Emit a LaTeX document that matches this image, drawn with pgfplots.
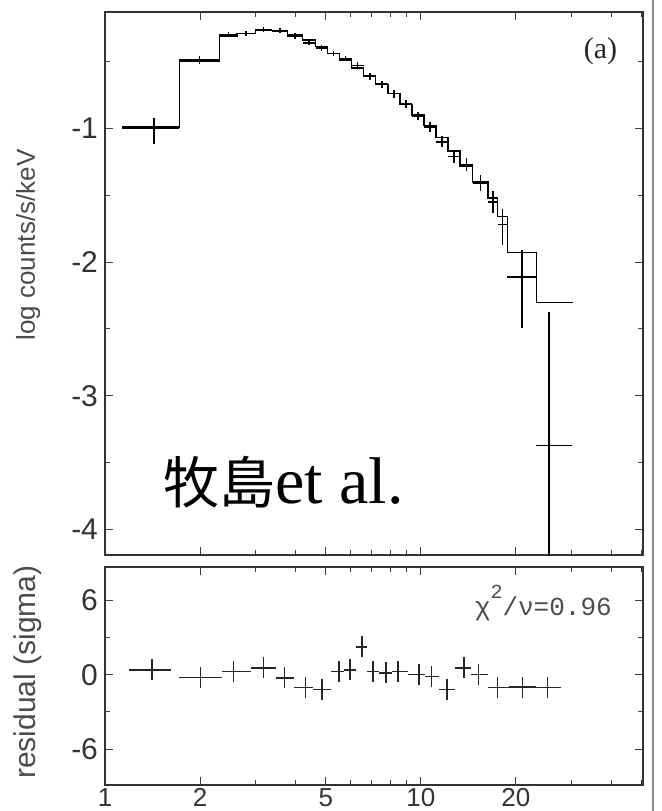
\documentclass[border=0pt]{standalone}
\usepackage{fontspec}
\setmainfont{Liberation Sans}
\newfontfamily\serif{Liberation Serif}
\newfontfamily\cjk{Noto Sans CJK JP}
\newfontfamily\mono{Liberation Mono}
\usepackage{pgfplots}
\usepackage{pgfplotstable}
\pgfplotsset{compat=1.18}

% observed spectrum: centre energy, bin half widths, log counts, errors
\pgfplotstableread{
E xm xp y ym yp
1.43 0.30 0.29 -1.00 0.12 0.08
1.99 0.27 0.31 -0.49 0.03 0.03
2.46 0.16 0.16 -0.30 0.02 0.02
2.80 0.18 0.19 -0.29 0.02 0.02
3.18 0.19 0.21 -0.26 0.02 0.02
3.58 0.19 0.20 -0.27 0.02 0.02
3.99 0.21 0.23 -0.31 0.02 0.02
4.43 0.21 0.21 -0.36 0.02 0.02
4.85 0.21 0.21 -0.40 0.02 0.02
5.29 0.23 0.24 -0.44 0.02 0.02
5.78 0.25 0.26 -0.48 0.02 0.02
6.31 0.27 0.28 -0.53 0.025 0.025
6.89 0.30 0.31 -0.61 0.025 0.025
7.52 0.32 0.34 -0.67 0.025 0.025
8.21 0.35 0.37 -0.74 0.03 0.03
8.97 0.39 0.40 -0.82 0.03 0.03
9.79 0.42 0.44 -0.91 0.03 0.03
10.69 0.46 0.48 -0.99 0.035 0.035
11.67 0.50 0.53 -1.10 0.04 0.04
12.74 0.54 0.56 -1.21 0.05 0.05
13.94 0.64 0.66 -1.27 0.05 0.05
15.43 0.83 0.87 -1.41 0.06 0.06
16.89 0.59 0.61 -1.55 0.08 0.08
18.14 0.64 0.66 -1.72 0.15 0.12
20.9 2.1 2.3 -2.11 0.38 0.20
25.4 2.3 4.8 -3.37 2.00 1.00
}\spec

% model (step histogram): bin lower edge, log counts
\pgfplotstableread{
E m
1.13 -0.99
1.72 -0.50
2.30 -0.31
2.62 -0.29
2.99 -0.27
3.39 -0.27
3.78 -0.30
4.22 -0.34
4.64 -0.39
5.06 -0.44
5.53 -0.49
6.04 -0.55
6.59 -0.61
7.20 -0.67
7.86 -0.74
8.58 -0.82
9.37 -0.90
10.23 -0.98
11.17 -1.07
12.2 -1.17
13.3 -1.28
14.6 -1.40
16.3 -1.52
17.5 -1.66
18.8 -1.93
23.2 -2.30
30.3 -2.30
}\model

% residuals in sigma
\pgfplotstableread{
E xm xp r
1.41 0.22 0.21 0.40
2.01 0.30 0.33 -0.20
2.55 0.21 0.34 0.25
3.17 0.28 0.32 0.55
3.70 0.21 0.27 -0.25
4.31 0.34 0.25 -1.05
4.87 0.31 0.33 -1.20
5.51 0.31 0.20 0.25
5.97 0.26 0.26 0.40
6.51 0.28 0.25 2.25
7.06 0.30 0.31 0.25
7.76 0.39 0.34 0.15
8.46 0.36 0.64 0.25
9.86 0.76 0.44 0.00
10.8 0.50 0.60 -0.15
12.1 0.70 0.70 -1.20
13.7 0.90 0.70 0.55
15.2 0.80 1.10 0.00
17.5 1.20 1.50 -1.05
21.0 2.00 2.10 -1.00
25.2 2.10 2.50 -1.05
}\resid

\begin{document}
\begin{tikzpicture}
\useasboundingbox (0,0) rectangle (331pt,-405.5pt);

% left edge of neighbouring panel (b)
\draw[black!45, line width=0.8pt] (326.5pt,0pt) -- (326.5pt,-405.5pt);

\begin{axis}[
  xmode=log, log basis x=10,
  scale only axis, width=269pt, height=271.5pt,
  at={(52.5pt,-6pt)}, anchor=north west,
  xmin=1, xmax=50.5,
  xtick={1,2,5,10,20},
  minor xtick={3,4,6,7,8,9,30,40,50},
  xticklabels={},
  ymin=-4.19, ymax=-0.13,
  ytick={-4,-3,-2,-1},
  minor ytick={-3.5,-2.5,-1.5,-0.5},
  tick align=inside,
  major tick length=4pt, minor tick length=2.5pt,
  axis line style={black!80, line width=0.9pt},
  tick style={black!75, line width=0.5pt},
  /pgf/number format/assume math mode=true,
  tick label style={font=\fontsize{15}{15}\selectfont, text=black!80},
  ylabel={log counts/s/keV},
  ylabel style={at={(axis description cs:-0.143,0.571)}, anchor=center,
    font=\fontsize{13}{13}\selectfont, text=black!70},
]
\addplot[const plot mark left, black, line width=0.7pt] table[x=E, y=m]{\model};
\addplot[draw=none, mark=none,
  error bars/.cd, x dir=both, x explicit, y dir=both, y explicit,
  error mark=none, error bar style={draw=black, solid, line width=0.8pt}]
  table[x=E, y=y, x error minus=xm, x error plus=xp,
        y error minus=ym, y error plus=yp]{\spec};
\node[anchor=north east, font=\serif\fontsize{15}{15}\selectfont, text=black!85]
  at (axis description cs:0.965,0.965) {(a)};
\node[anchor=base west, inner sep=0pt]
  at (axis description cs:0.108,0.094) {{\cjk\fontsize{28}{28}\selectfont 牧島}{\serif\fontsize{33}{33}\selectfont et al.}};
\end{axis}

\begin{axis}[
  xmode=log, log basis x=10,
  scale only axis, width=269pt, height=109pt,
  at={(52.5pt,-283.5pt)}, anchor=north west,
  xmin=1, xmax=50.5,
  xtick={1,2,5,10,20},
  xticklabels={1,2,5,10,20},
  minor xtick={3,4,6,7,8,9,30,40,50},
  ymin=-8.9, ymax=8.7,
  ytick={-6,0,6},
  minor ytick={-3,3},
  tick align=inside,
  major tick length=4pt, minor tick length=2.5pt,
  axis line style={black!80, line width=0.9pt},
  tick style={black!75, line width=0.5pt},
  /pgf/number format/assume math mode=true,
  tick label style={font=\fontsize{15}{15}\selectfont, text=black!80},
  xticklabel style={font=\fontsize{13}{13}\selectfont, inner sep=0pt, yshift=-1.5pt},
  ylabel={residual (sigma)},
  ylabel style={at={(axis description cs:-0.143,0.518)}, anchor=center,
    font=\fontsize{15}{15}\selectfont, text=black!70},
]
\addplot[draw=none, mark=none,
  error bars/.cd, x dir=both, x explicit, y dir=both, y fixed=0.85,
  error mark=none, error bar style={draw=black!85, solid, line width=0.7pt}]
  table[x=E, y=r, x error minus=xm, x error plus=xp]{\resid};
\node[anchor=east, font=\mono\fontsize{13}{13}\selectfont, text=black!70]
  at (axis description cs:0.955,0.835) {χ\raisebox{1.3ex}{\fontsize{10}{10}\selectfont 2}/ν=0.96};
\end{axis}
\end{tikzpicture}
\end{document}
